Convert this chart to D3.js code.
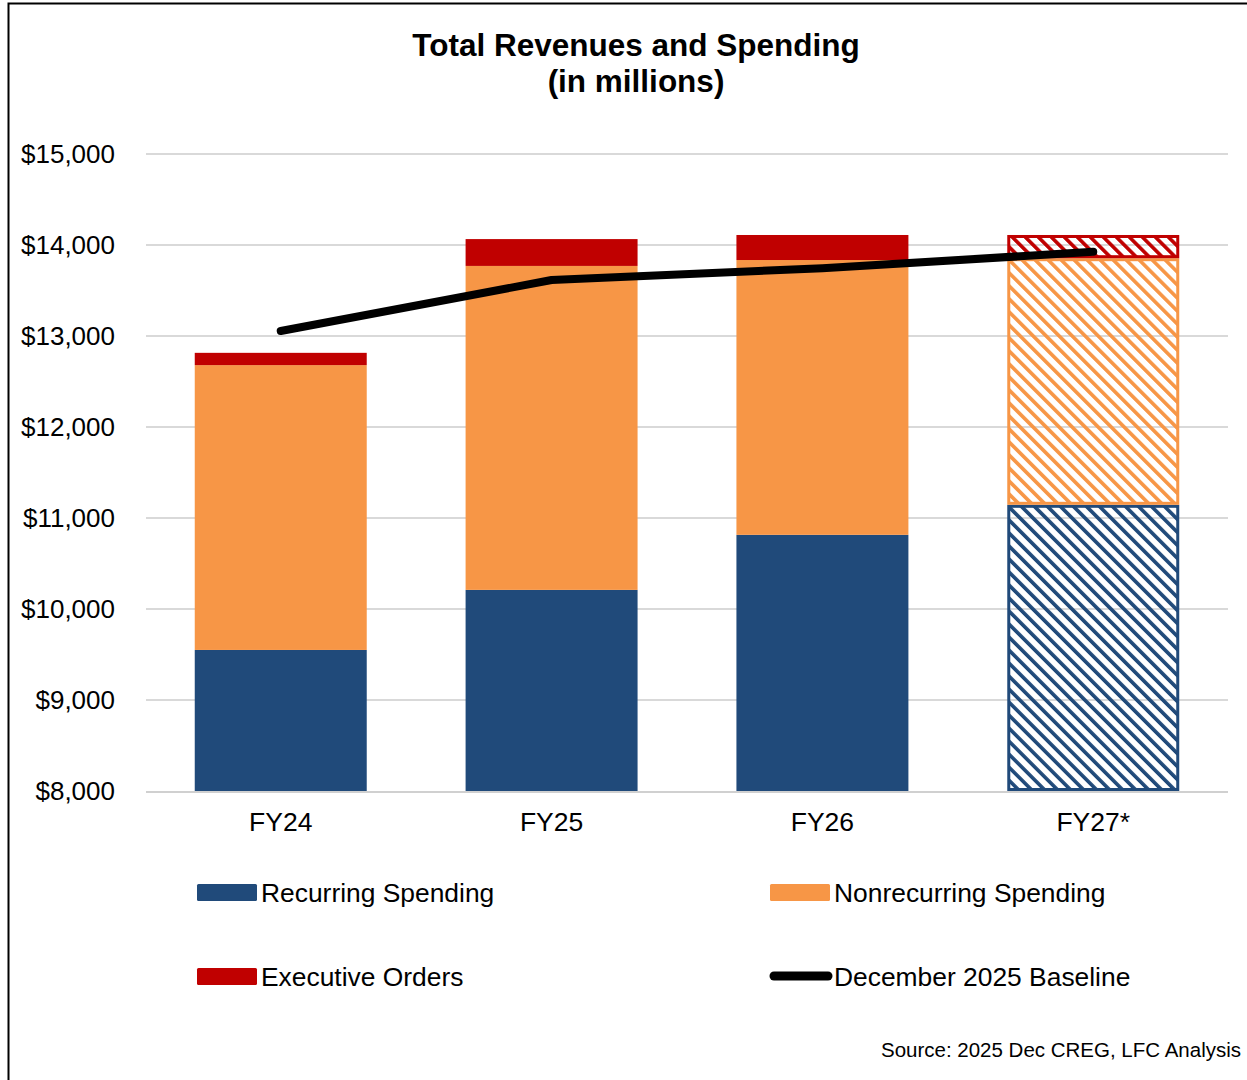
<!DOCTYPE html>
<html>
<head>
<meta charset="utf-8">
<script src="https://cdn.jsdelivr.net/npm/d3@7"></script>
<style>
  html, body { margin: 0; padding: 0; background: #fff; }
  svg text { font-family: "Liberation Sans", Arial, sans-serif; fill: #000; }
</style>
</head>
<body>
<div id="chart"></div>
<script>
const years = ['FY24', 'FY25', 'FY26', 'FY27*'];
const recurring = [9550, 10210, 10815, 11145];
const nonrecurring = [3130, 3560, 3020, 2710];
const execOrders = [135, 295, 275, 255];
const baseline = [13055, 13615, 13745, 13925];
const projected = [false, false, false, true];
const yTicks = [8000, 9000, 10000, 11000, 12000, 13000, 14000, 15000];

const seriesNames = ['Recurring Spending', 'Nonrecurring Spending', 'Executive Orders'];
const colors = ['#204a7a', '#f79646', '#c00000'];

const W = 1247, H = 1080;
const margin = { top: 154, right: 19, bottom: 289, left: 146 };
const innerW = W - margin.left - margin.right;
const innerH = H - margin.top - margin.bottom;
const font = '"Liberation Sans", Arial, sans-serif';

const svg = d3.select('#chart').append('svg')
  .attr('width', W)
  .attr('height', H);

// outer frame
svg.append('rect')
  .attr('x', 8.5).attr('y', 3.5)
  .attr('width', W + 10).attr('height', H + 10)
  .attr('fill', 'none').attr('stroke', '#000').attr('stroke-width', 2);

// hatch patterns for projected year
const defs = svg.append('defs');
colors.forEach((c, i) => {
  defs.append('pattern')
    .attr('id', `hatch${i}`)
    .attr('patternUnits', 'userSpaceOnUse')
    .attr('width', 9.2).attr('height', 9.2)
    .attr('patternTransform', 'rotate(-45)')
    .append('rect')
      .attr('x', 0).attr('y', 0)
      .attr('width', 3.6).attr('height', 9.2)
      .attr('fill', c);
});

svg.append('text')
  .attr('x', 636).attr('y', 56)
  .attr('text-anchor', 'middle')
  .attr('font-size', 31.5).attr('font-weight', 'bold')
  .text('Total Revenues and Spending');
svg.append('text')
  .attr('x', 636).attr('y', 92)
  .attr('text-anchor', 'middle')
  .attr('font-size', 31.5).attr('font-weight', 'bold')
  .text('(in millions)');

const g = svg.append('g').attr('transform', `translate(${margin.left},${margin.top})`);

const x = d3.scaleBand().domain(years).range([0, 1082]).paddingInner(0.365).paddingOuter(0.18);
const y = d3.scaleLinear().domain([8000, 15000]).range([innerH, 0]);
const yFloor = v => y(Math.max(v, 8000));

// gridlines
g.append('g')
  .selectAll('line')
  .data(yTicks.slice(1))
  .join('line')
    .attr('x1', 0).attr('x2', 1082)
    .attr('y1', d => y(d)).attr('y2', d => y(d))
    .attr('stroke', '#d9d9d9').attr('stroke-width', 2);

// y axis labels
const yAxis = g.append('g')
  .call(d3.axisLeft(y).tickValues(yTicks).tickFormat(d => '$' + d3.format(',')(d)).tickSize(0).tickPadding(31));
yAxis.select('.domain').remove();
yAxis.selectAll('text').attr('font-size', 26).attr('font-family', font).attr('fill', '#000');

// stacked bars
const rows = years.map((yr, i) => ({
  year: yr,
  s0: recurring[i], s1: nonrecurring[i], s2: execOrders[i],
  projected: projected[i],
}));
const stack = d3.stack().keys(['s0', 's1', 's2']);
const layers = stack(rows);

layers.forEach((layer, li) => {
  g.append('g')
    .selectAll('rect')
    .data(layer)
    .join('rect')
      .attr('x', d => x(d.data.year) + (d.data.projected ? 1.5 : 0))
      .attr('y', d => y(d[1]) + (d.data.projected ? 1.5 : 0))
      .attr('width', d => x.bandwidth() - (d.data.projected ? 3 : 0))
      .attr('height', d => yFloor(d[0]) - y(d[1]) - (d.data.projected ? 3 : 0))
      .attr('fill', d => (d.data.projected ? `url(#hatch${li})` : colors[li]))
      .attr('stroke', d => (d.data.projected ? colors[li] : 'none'))
      .attr('stroke-width', 3);
});

// x axis baseline
g.append('line')
  .attr('x1', 0).attr('x2', 1082)
  .attr('y1', innerH + 1).attr('y2', innerH + 1)
  .attr('stroke', '#d0d0d0').attr('stroke-width', 2);

const xAxis = g.append('g')
  .attr('transform', `translate(0,${innerH})`)
  .call(d3.axisBottom(x).tickSize(0).tickPadding(21));
xAxis.select('.domain').remove();
xAxis.selectAll('text').attr('font-size', 26.5).attr('font-family', font).attr('fill', '#000');

// baseline line
const line = d3.line()
  .x((d, i) => x(years[i]) + x.bandwidth() / 2)
  .y(d => y(d));
g.append('path')
  .datum(baseline)
  .attr('d', line)
  .attr('fill', 'none')
  .attr('stroke', '#000')
  .attr('stroke-width', 8)
  .attr('stroke-linecap', 'round')
  .attr('stroke-linejoin', 'round');

// legend
const legendItems = [
  { name: seriesNames[0], color: colors[0], type: 'rect', x: 197, y: 892 },
  { name: seriesNames[1], color: colors[1], type: 'rect', x: 770, y: 892 },
  { name: seriesNames[2], color: colors[2], type: 'rect', x: 197, y: 976 },
  { name: 'December 2025 Baseline', color: '#000', type: 'line', x: 770, y: 976 },
];
const legend = svg.append('g');
legendItems.forEach((it) => {
  const item = legend.append('g').attr('transform', `translate(${it.x},${it.y})`);
  if (it.type === 'rect') {
    item.append('rect')
      .attr('x', 0).attr('y', -8)
      .attr('width', 60).attr('height', 17)
      .attr('rx', 1.5)
      .attr('fill', it.color);
  } else {
    item.append('line')
      .attr('x1', 4).attr('x2', 58)
      .attr('y1', 0).attr('y2', 0)
      .attr('stroke', it.color).attr('stroke-width', 9)
      .attr('stroke-linecap', 'round');
  }
  item.append('text')
    .attr('x', 64).attr('y', 9.5)
    .attr('font-size', 26.4)
    .text(it.name);
});

svg.append('text')
  .attr('x', 1241).attr('y', 1057)
  .attr('text-anchor', 'end')
  .attr('font-size', 20.5)
  .text('Source: 2025 Dec CREG, LFC Analysis');
</script>
</body>
</html>
